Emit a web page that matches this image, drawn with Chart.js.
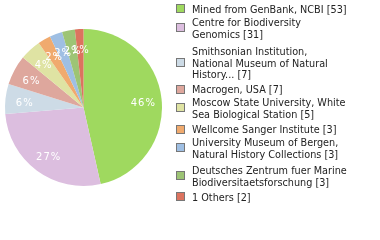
<!DOCTYPE html>
<html><head><meta charset="utf-8">
<script src="https://cdn.jsdelivr.net/npm/chart.js@4"></script>
<style>
html,body{margin:0;padding:0;background:#fff;width:380px;height:240px;overflow:hidden;}
#wrap{position:absolute;left:0;top:0;width:167px;height:240px;}
#legend{position:absolute;left:0;top:0;width:380px;height:240px;font-family:"DejaVu Sans",sans-serif;font-size:9.7px;color:#222;}
.it{position:absolute;left:176px;}
.sq{position:absolute;left:0;width:7px;height:7px;border:1px solid #777;}
.tx{position:absolute;left:16px;top:0;white-space:nowrap;line-height:11.5px;}
</style></head>
<body>
<div id="wrap"><canvas id="c"></canvas></div>
<div id="legend"></div>
<script>
const labels = [
  ["Mined from GenBank, NCBI [53]"],
  ["Centre for Biodiversity","Genomics [31]"],
  ["Smithsonian Institution,","National Museum of Natural","History... [7]"],
  ["Macrogen, USA [7]"],
  ["Moscow State University, White","Sea Biological Station [5]"],
  ["Wellcome Sanger Institute [3]"],
  ["University Museum of Bergen,","Natural History Collections [3]"],
  ["Deutsches Zentrum fuer Marine","Biodiversitaetsforschung [3]"],
  ["1 Others [2]"]
];
const values = [53, 31, 7, 7, 5, 3, 3, 3, 2];
const colors = ["#9fd95f","#dcbedf","#cddbe6","#dea79d","#dfe3a3","#f0aa6e","#9fbfe3","#9dc475","#dc735f"];

// layout only: top of first line of each legend item
const itemTops = [3.5, 17, 46, 84.3, 97.3, 124.3, 137.3, 165, 191.6];

const total = values.reduce((a,b)=>a+b,0);

const pieLabels = {
  id:'pieLabels',
  afterDatasetsDraw(chart){
    const ctx = chart.ctx;
    const meta = chart.getDatasetMeta(0);
    ctx.save();
    ctx.fillStyle = '#fff';
    ctx.font = '10px "DejaVu Sans", sans-serif';
    ctx.textAlign = 'center';
    ctx.textBaseline = 'middle';
    meta.data.forEach((arc,i)=>{
      const a = (arc.startAngle + arc.endAngle)/2;
      const r = arc.outerRadius * 0.76;
      const x = arc.x + Math.cos(a)*r;
      const y = arc.y + Math.sin(a)*r + 2;
      const pct = Math.floor(values[i]/total*100) + '%';
      ctx.fillText(pct.split('').join(String.fromCharCode(8202)), x, y);
    });
    ctx.restore();
  }
};

new Chart(document.getElementById('c'), {
  type:'pie',
  data:{ labels: labels.map(l=>l.join(' ')), datasets:[{ data: values, backgroundColor: colors, borderWidth:0 }] },
  options:{
    responsive:true, maintainAspectRatio:false, animation:false,
    layout:{ padding:{ left:5, right:5, top:29, bottom:54 } },
    plugins:{ legend:{display:false}, tooltip:{enabled:false} }
  },
  plugins:[pieLabels]
});

const lg = document.getElementById('legend');
labels.forEach((lines,i)=>{
  const it = document.createElement('div');
  it.className='it';
  it.style.top = itemTops[i]+'px';
  const h = lines.length*11.5;
  const sq = document.createElement('div');
  sq.className='sq';
  sq.style.background = colors[i];
  sq.style.top = (h/2 - 5.5)+'px';
  const tx = document.createElement('div');
  tx.className='tx';
  tx.innerHTML = lines.join('<br>');
  it.appendChild(sq); it.appendChild(tx);
  lg.appendChild(it);
});
</script>
</body></html>
